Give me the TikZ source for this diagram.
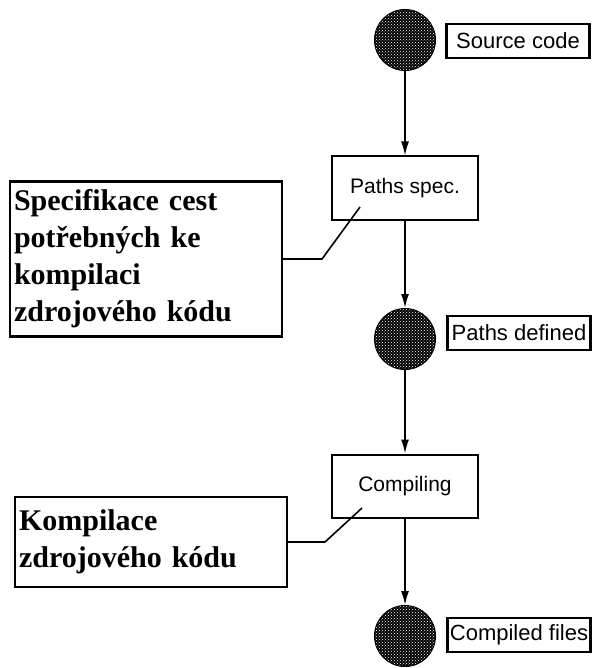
\documentclass[tikz,border=0pt]{standalone}
\usepackage{fontspec}
\setmainfont{Liberation Serif}
\setsansfont{Liberation Sans}
\usetikzlibrary{arrows.meta,patterns}

\begin{document}
\begin{tikzpicture}[x=1pt,y=-1pt,line width=1.6pt,>={Latex[length=14pt,width=8pt]},->]
  \tikzstyle{state}=[circle,draw,line width=2pt,fill=black,minimum size=60pt,inner sep=0pt,postaction={pattern=crosshatch dots,pattern color=white}]
  \tikzstyle{tag}=[rectangle,draw,line width=2.2pt,minimum width=143pt,minimum height=34pt,inner sep=0pt,font=\sffamily\fontsize{22}{24}\selectfont]
  \tikzstyle{step box}=[rectangle,draw,line width=2pt,minimum width=146pt,minimum height=63pt,inner sep=0pt,font=\sffamily\fontsize{21}{24}\selectfont]
  \tikzstyle{note}=[rectangle,draw,line width=2.2pt,minimum width=272pt,text width=264pt,inner sep=4pt,align=left,font=\bfseries\fontsize{30}{37}\selectfont]
  \useasboundingbox (0,0) rectangle (593,668);

  \node[state] (S_1) at (405,40) {};
  \node[tag] (T_1) at (518,41) {Source code};
  \node[step box] (P_1) at (405,188) {Paths spec.};
  \node[state] (S_2) at (405,339) {};
  \node[tag] (T_2) at (519,333) {Paths defined};
  \node[step box] (P_2) at (405,486) {Compiling};
  \node[state] (S_3) at (405,636) {};
  \node[tag] (T_3) at (519,635) {Compiled files};

  \node[note,minimum height=155pt] (N_1) at (146,259) {Specifikace cest\\potřebných ke\\kompilaci\\zdrojového kódu};
  \node[note,minimum height=90pt] (N_2) at (151,542) {Kompilace\\zdrojového kódu};
  \coordinate (B_1) at (322,259);
  \coordinate (E_1) at (360,207);
  \coordinate (B_2) at (325,542);
  \coordinate (E_2) at (362,508);

  \draw (S_1) -- (P_1);
  \draw (P_1) -- (S_2);
  \draw (S_2) -- (P_2);
  \draw (P_2) -- (S_3);
  \draw[-] (N_1) -- (B_1) -- (E_1);
  \draw[-] (N_2) -- (B_2) -- (E_2);
\end{tikzpicture}
\end{document}
